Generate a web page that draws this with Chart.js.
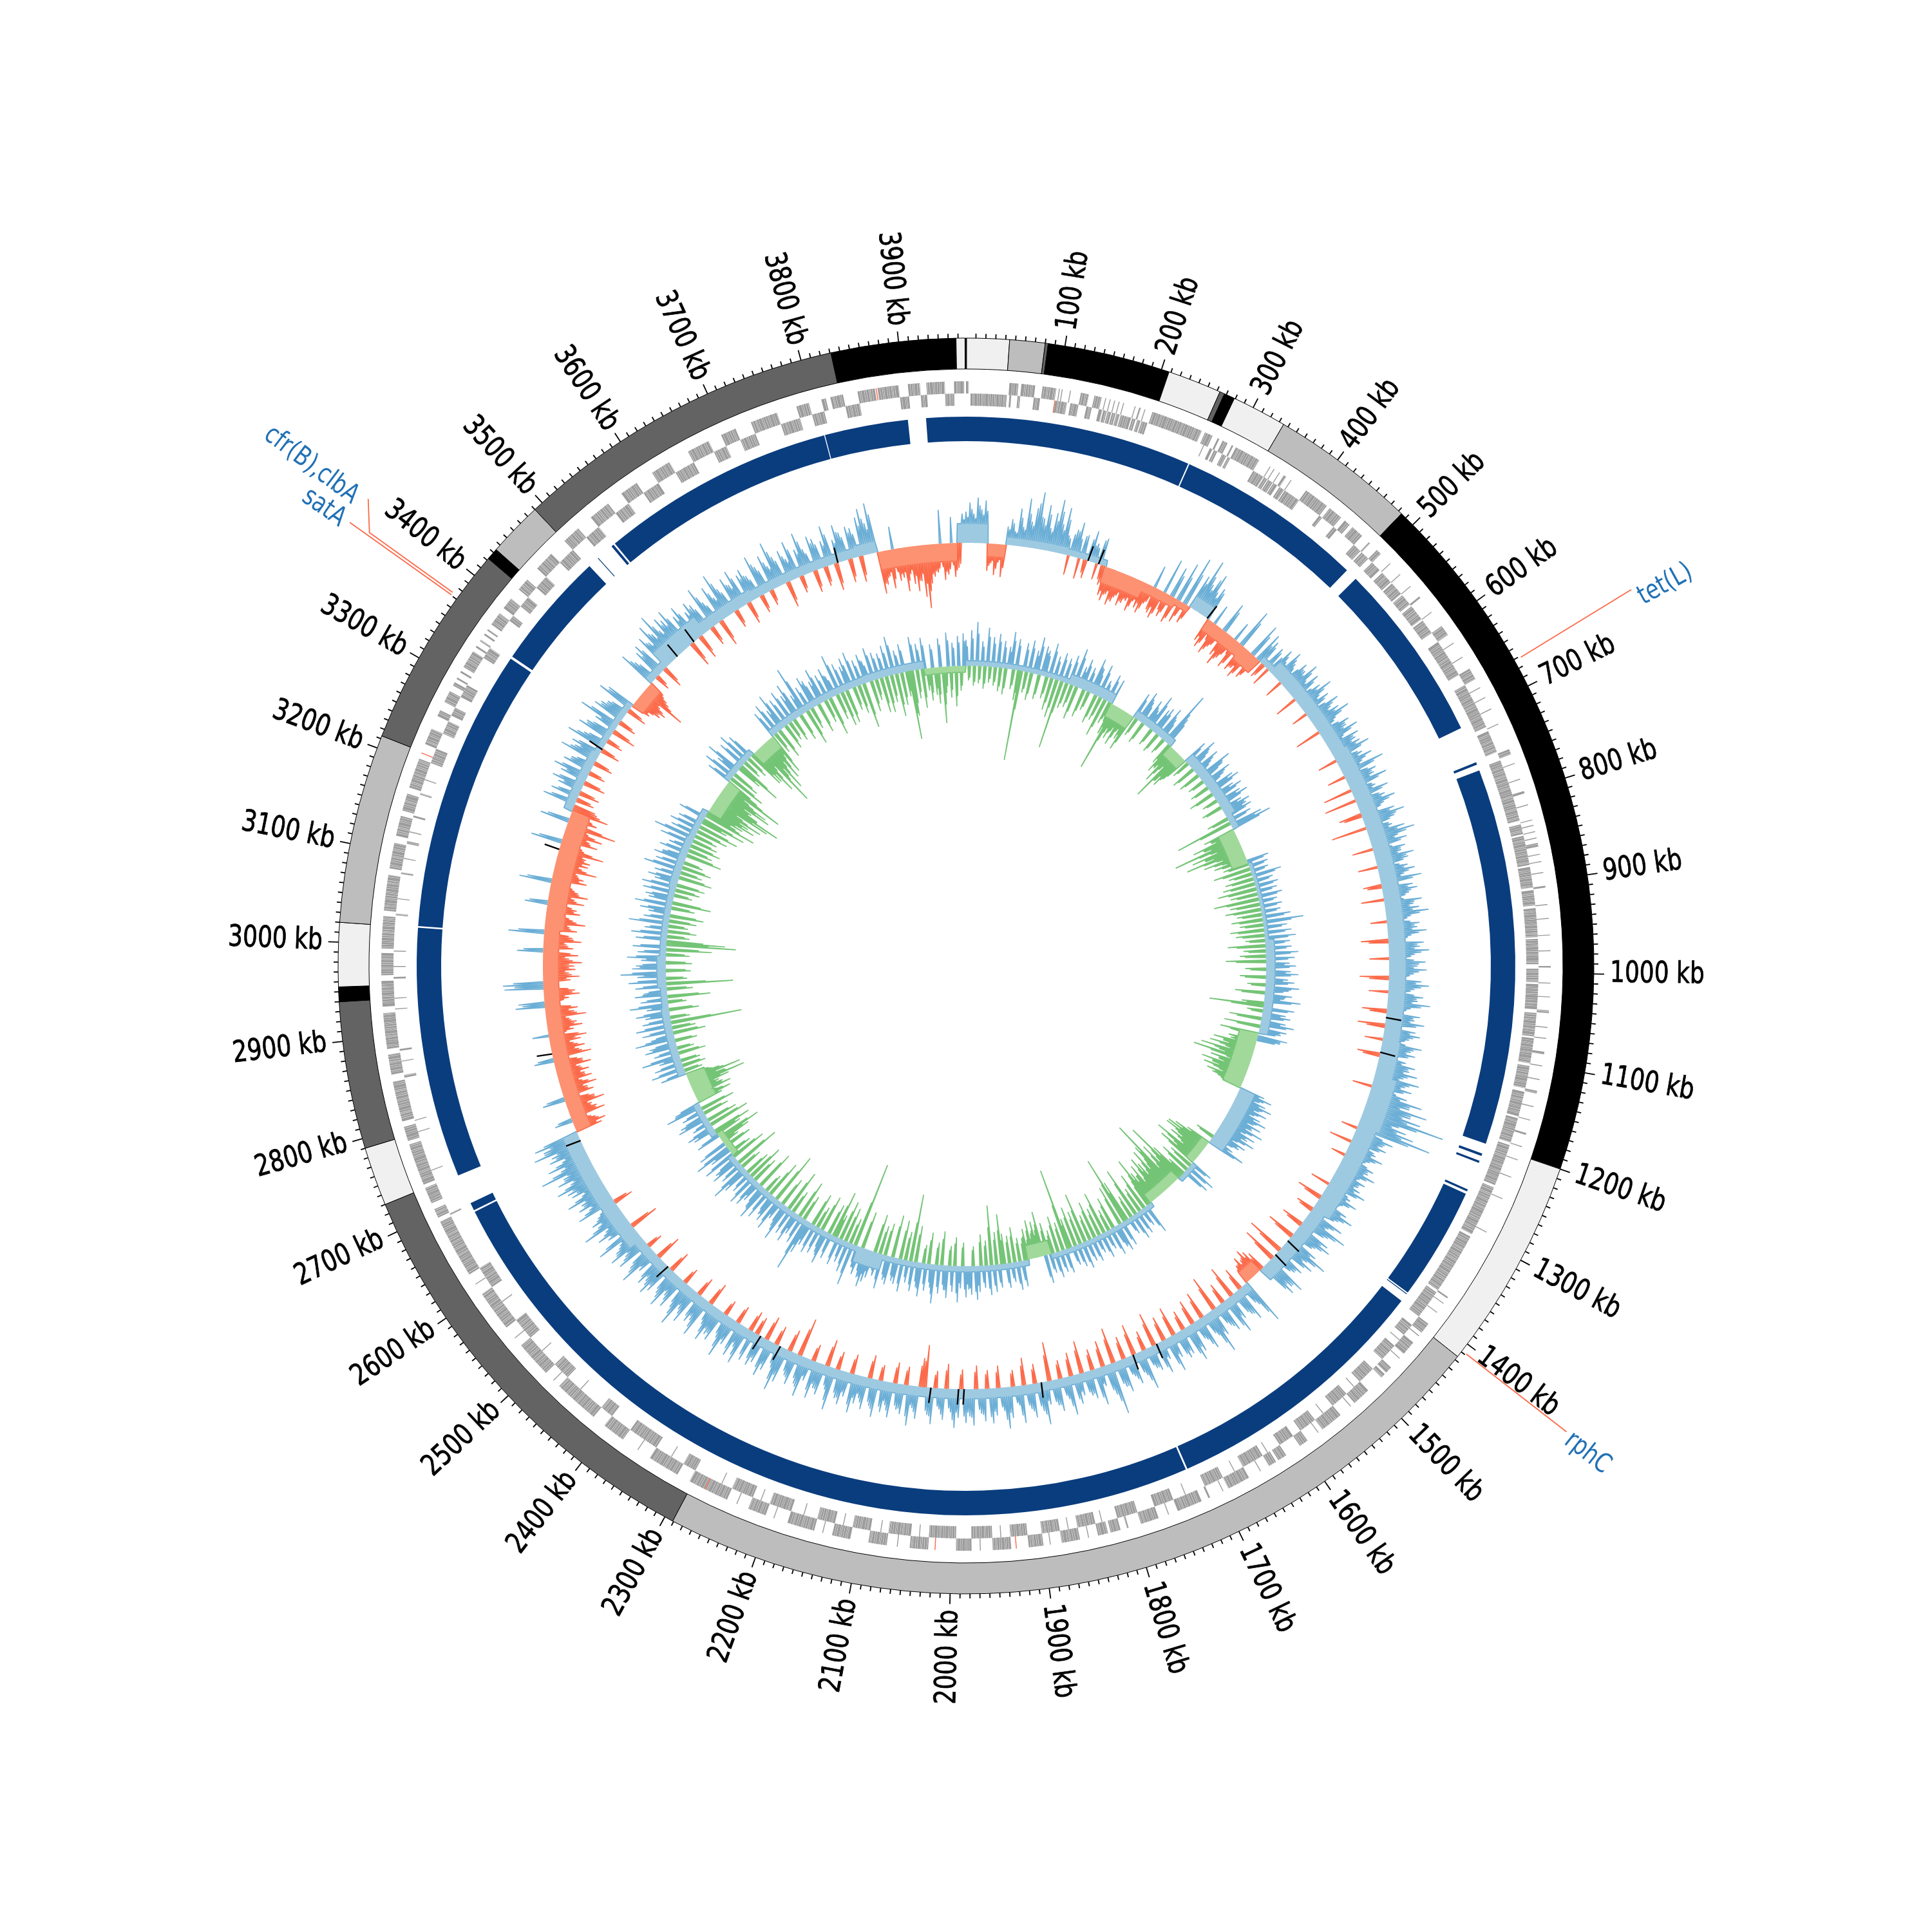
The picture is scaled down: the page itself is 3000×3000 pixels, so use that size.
<!DOCTYPE html>
<html>
<head>
<meta charset="utf-8">
<title>Circular genome map</title>
<script src="https://cdn.jsdelivr.net/npm/chart.js@4/dist/chart.umd.js"></script>
<style>
  html, body { margin: 0; padding: 0; background: #fff; }
  #wrap { position: relative; width: 3000px; height: 3000px; }
  canvas { position: absolute; left: 0; top: 0; }
</style>
</head>
<body>
<div id="wrap">
  <canvas id="rings" width="3000" height="3000"></canvas>
  <canvas id="tracks" width="3000" height="3000"></canvas>
</div>
<script>
const GENOME_KB = 3968;

// contig ring: end of each contig in kb, and its shade
const contigEnds = [0.6, 44, 80, 83, 208, 263, 268, 279, 335, 484, 1200, 1416, 2291, 2730, 2790, 2940, 2955, 3020, 3213, 3422, 3434, 3490, 3831, 3958, 3967, 3968];
const contigColors = ['#000000', '#f0f0f0', '#bdbdbd', '#636363', '#000000', '#f0f0f0', '#636363', '#000000', '#f0f0f0', '#bdbdbd', '#000000', '#f0f0f0', '#bdbdbd', '#636363', '#f0f0f0', '#636363', '#000000', '#f0f0f0', '#bdbdbd', '#636363', '#000000', '#bdbdbd', '#636363', '#000000', '#f0f0f0', '#000000'];

// aligned blocks (start, end, start, end ... in kb)
const blueEdges = [0, 263, 264.5, 484, 498, 709, 752, 755, 762, 1200, 1212, 1215, 1221, 1223.5, 1256.5, 1259, 1262, 1394, 1395.5, 1396.5, 1406, 1722, 1724, 2683, 2685, 2694, 2729, 3020, 3022, 3351, 3354, 3491, 3504, 3505, 3525, 3528, 3530, 3803, 3804, 3901, 3922, 3968];

// genes on the two strands
const geneOuter = [0,3, 47,57, 60,75, 83,98, 101,102, 104,105, 113,114, 125,134, 140,148, 152,153, 157,158, 162,163, 167,168, 172,173, 185,186, 190,192, 196,197,
  205,262, 266,275, 281,283, 287,293, 298,300, 303,332, 345,346, 350,351, 357,358, 363,366, 372,373, 392,420, 424,440, 445,452, 456,470, 480,482, 492,498,
  512,513, 528,529, 545,546, 560,562, 581,582, 600,612, 622,623, 640,641, 655,668, 678,679, 690,691, 704,705, 722,723, 752,758, 768,769, 786,787, 800,803, 815,816, 832,833, 838,839, 845,846, 852,853, 858,862, 870,871, 878,879, 890,891, 905,907, 925,926, 940,941, 958,959, 975,976, 992,994, 1010,1011, 1025,1026, 1040,1043, 1058,1059, 1070,1071, 1085,1088, 1100,1101, 1115,1116, 1128,1131, 1145,1146, 1160,1161, 1175,1177, 1190,1191, 1205,1206, 1225,1226, 1250,1251, 1290,1291,
  1372,1374, 1380,1381, 1392,1393, 1408,1420, 1424,1425, 1434,1450, 1456,1457, 1470,1478, 1480,1485, 1505,1525, 1530,1531, 1545,1570, 1575,1576, 1590,1600, 1618,1628, 1631,1640, 1650,1651, 1665,1690, 1696,1697, 1712,1714, 1722,1750, 1760,1761, 1772,1792, 1806,1808, 1815,1826, 1829,1840, 1850,1851, 1860,1880, 1892,1893, 1900,1916, 1929,1930, 1935,1955, 1968,1969, 1978,1995, 2017,2018, 2025,2045, 2058,2059, 2070,2090, 2110,2130, 2140,2141, 2150,2180, 2195,2196, 2205,2225, 2238,2239, 2250,2276, 2276,2277, 2277,2295, 2310,2345, 2360,2361, 2380,2405, 2420,2470, 2478,2479, 2490,2530, 2540,2541, 2555,2600, 2612,2613, 2625,2690, 2695,2705, 2712,2730, 2734,2780, 2784,2800, 2806,2850, 2858,2880, 2886,2925, 2932,2960, 2966,2990, 2995,3030, 3036,3075, 3082,3110, 3118,3140, 3146,3165, 3172,3205,
  3211,3212, 3222,3240, 3255,3262, 3272,3285, 3292,3296, 3300,3302, 3308,3310, 3315,3335, 3340,3342, 3348,3350, 3356,3358, 3362,3364, 3370,3385, 3392,3405, 3418,3432, 3448,3470, 3490,3510, 3528,3552, 3570,3590, 3610,3632, 3655,3680, 3695,3712, 3730,3760, 3782,3796, 3810,3815, 3820,3834, 3850,3869, 3870,3871, 3872,3895, 3905,3918, 3925,3945, 3955,3966];
const geneInner = [5,45, 48,50, 57,60, 75,82, 98,99, 99,112, 116,125, 134,140, 148,152, 153,157, 158,162, 163,167, 168,172, 173,185, 186,190, 192,196, 197,204,
  270,271, 278,281, 283,287, 293,298, 300,303, 332,345, 346,350, 351,357, 358,363, 366,372, 373,392, 420,424, 440,445, 470,480, 482,492,
  498,510, 514,528, 530,545, 547,560, 563,581, 583,600, 612,655, 668,720, 725,750, 760,830, 834,845, 847,880, 882,905, 908,925, 928,960, 962,990, 995,1010, 1012,1040, 1044,1070, 1072,1100, 1103,1128, 1132,1160, 1162,1190, 1193,1240, 1243,1300, 1303,1372,
  1375,1408, 1420,1434, 1441,1442, 1450,1470, 1485,1505, 1513,1514, 1525,1545, 1558,1559, 1570,1590, 1600,1618, 1633,1634, 1640,1665, 1675,1676, 1690,1712, 1735,1736, 1750,1772, 1792,1815, 1832,1833, 1840,1860, 1870,1871, 1880,1900, 1916,1935, 1945,1946, 1955,1978, 1995,2025, 2035,2036, 2045,2070, 2078,2079, 2090,2110, 2120,2121, 2130,2150, 2165,2166, 2180,2205, 2215,2216, 2225,2250, 2262,2263, 2295,2310, 2325,2326, 2345,2380, 2405,2420, 2450,2451, 2470,2490, 2510,2511, 2530,2555, 2580,2581, 2600,2625, 2692,2694, 2745,2746, 2790,2791, 2803,2804, 2852,2855, 2870,2871, 2882,2884, 2928,2929, 2940,2941, 2962,2964, 2975,2976, 2992,2993, 3032,3034, 3050,3051, 3078,3080, 3095,3096, 3112,3115, 3125,3126, 3142,3144, 3168,3170, 3185,3186,
  3205,3222, 3240,3255, 3262,3272, 3285,3300, 3335,3348, 3385,3392, 3405,3418, 3432,3448, 3470,3490, 3510,3528, 3552,3570, 3590,3610, 3632,3655, 3680,3695, 3712,3730, 3760,3782, 3796,3810, 3834,3850, 3895,3905, 3918,3925, 3945,3955];
const geneRedStarts = [98, 1929, 2017, 2276, 3211, 3870];
// typical lengths of the single genes inside a block, kb
const geneLengths = [2.2, 1.4, 3.1, 1.8, 2.6, 1.1, 2.0, 3.4, 1.5, 2.4];

// GC content deviation, one peak every 0.5 degrees (+ outward, - inward)
const gcPeaks = [
  48,62,45,70,52,66,-42,-30,-48,-28,-50,28,40,22,58,30,75,40,62,88,48,70,35,60,82,45,72,30,-30,42,
  55,-32,38,-28,48,30,-25,42,-30,-45,-52,-40,-55,-48,-36,-50,-44,-38,-52,-34,-42,-48,-30,35,-40,-46,55,-38,48,-42,
  62,-35,78,-30,55,85,48,60,42,52,-38,-46,32,-50,-35,48,-42,-55,-40,30,-48,62,-45,-38,-50,55,-42,48,40,-25,
  38,-30,45,28,52,36,-28,48,40,58,32,50,-35,44,60,34,46,-25,55,38,48,62,35,-40,50,42,58,30,52,44,
  48,60,-30,42,55,36,68,-28,50,44,62,-45,38,56,-50,46,60,40,-35,52,66,48,-55,40,58,72,44,56,-32,50,
  42,60,50,-30,46,56,38,64,-28,48,54,40,-35,58,44,52,66,38,-25,50,46,60,36,-42,54,48,62,40,-30,56,
  44,58,38,-45,50,62,40,-30,54,46,66,36,-38,52,44,60,-42,48,56,40,-28,62,46,54,-35,42,58,50,64,44,
  70,50,62,-30,58,84,66,96,72,90,130,60,74,88,118,-25,62,48,56,-35,44,58,40,-22,52,46,60,38,50,42,
  48,60,-30,42,56,36,-40,50,64,44,-28,58,38,72,46,-35,54,62,40,-45,50,73,44,58,-60,48,40,-55,66,52,
  60,-30,-38,-45,-32,-40,-30,74,38,-35,55,42,-50,40,60,-32,48,36,-55,44,70,38,-42,52,34,-38,46,58,-30,40,
  44,-45,36,56,-38,30,50,-52,40,34,-30,62,38,-48,46,32,-35,52,42,-55,81,48,-40,30,58,-32,44,38,-50,34,
  46,-36,60,34,-28,50,40,-60,36,66,44,-30,52,38,-42,58,30,-25,48,64,36,-34,42,54,-28,50,38,-36,56,42,
  52,-30,44,60,36,-38,48,32,-26,56,42,-65,-44,50,34,62,-28,46,40,-32,54,36,48,-24,58,42,-36,50,34,44,
  60,-30,38,52,44,-28,66,36,-42,48,40,58,-26,34,62,44,-60,50,38,-34,54,70,36,-30,46,58,-38,42,50,-28,
  48,-32,60,36,54,-28,42,66,38,-24,50,44,58,34,-36,62,40,46,-30,56,38,70,44,-26,52,36,60,42,-34,48,
  58,40,50,-40,36,64,44,-24,54,38,60,46,34,68,-45,42,56,38,72,44,50,36,-30,62,40,54,46,66,38,52,
  56,70,44,62,50,84,48,66,40,58,52,78,60,72,-42,-50,-36,28,-55,-44,-38,-60,-46,35,-48,-40,-56,-35,-52,-42,
  -50,-38,-56,-44,30,-60,-42,-52,-36,-48,-58,25,-40,-54,-46,-35,-62,-44,-50,45,40,-38,-55,-48,60,62,-42,-56,-40,-50,
  -48,-60,-40,-54,40,-46,-36,-58,-44,55,-50,-38,-62,-42,-30,-52,-46,35,-56,-40,-60,-44,-34,50,-54,-48,-38,-66,-42,-50,
  -52,-44,-70,-38,48,-56,-42,-60,-36,-78,45,-44,-30,-58,-38,52,-28,44,-32,38,50,-34,42,56,-26,46,36,-30,60,40,
  48,-30,62,38,-26,54,44,-38,36,66,-28,50,42,34,-32,58,46,-26,-44,-50,-36,-74,-44,-30,60,40,-24,48,56,-34,
  60,46,72,52,81,48,66,58,70,-40,50,62,-38,44,56,48,-30,68,40,-42,58,36,72,44,-28,54,40,60,-34,46,
  52,38,-28,64,44,-24,56,36,72,46,-40,50,34,60,-26,42,66,38,-34,54,48,-30,40,62,-42,36,58,44,-36,50,
  46,-40,60,72,48,78,-65,-52,-40,-60,35,-50,-46,-68,-42,-58,-70,-55,-80,-98,-60,-50,-44,52,-56,-48,40,-52,-38,45
];
// the smaller spikes lying between those peaks
const gcMinor = [
  40,52,38,58,44,50,-34,-26,-38,-24,-36,24,34,20,44,26,52,34,70,50,38,56,30,48,64,36,54,26,34,40,
  30,36,-20,34,26,24,38,-22,-26,-38,-42,-34,-46,-40,-30,-42,-36,-32,-44,-30,-34,-40,-26,-36,-30,-38,-28,-30,36,-34,
  40,-24,52,-22,44,60,40,70,34,46,-30,-38,-28,-42,-30,36,-34,-44,-32,-26,-40,44,-38,-32,-42,38,-36,30,32,-20,
  32,28,36,24,42,30,34,40,34,46,28,40,30,36,46,28,38,34,44,32,40,48,30,34,42,36,46,26,42,36,
  40,46,36,34,44,30,52,38,42,36,48,34,32,46,38,40,50,34,-28,44,52,40,36,34,46,58,38,46,30,42,
  36,48,42,34,40,46,32,50,-22,40,44,34,30,46,38,42,52,32,36,42,38,48,30,-30,44,40,50,34,38,46,
  38,46,32,-30,42,50,34,40,44,38,52,30,-26,42,38,48,-28,40,46,34,36,50,40,44,-26,36,48,42,50,38,
  56,44,50,40,48,66,52,72,60,70,88,50,60,70,84,44,50,42,46,40,38,48,34,40,44,40,48,34,42,36,
  40,48,36,36,46,32,-28,42,52,38,-22,46,34,58,40,-26,44,50,36,-32,42,58,38,46,-40,40,34,-36,52,44,
  48,-22,-30,-34,-26,-30,-24,56,32,-24,44,36,-36,34,48,-24,40,30,-38,38,54,32,-30,44,30,-28,38,46,-22,34,
  36,-32,30,44,-28,26,40,-36,34,28,-22,48,32,-34,38,28,-26,42,36,-38,60,40,-28,26,46,-24,36,32,-36,28,
  38,-26,46,28,-22,40,34,-40,30,50,36,-22,42,32,-30,46,26,-20,40,50,30,-24,36,44,-22,40,32,-26,44,36,
  42,-22,36,48,30,-28,40,28,-20,44,36,-40,-32,40,30,48,-22,38,34,-24,44,30,40,-20,46,36,-26,40,28,36,
  48,-22,32,42,36,-20,52,30,-30,40,34,46,-20,28,48,36,-42,40,32,-26,44,54,30,-22,38,46,-28,36,40,-22,
  40,-24,48,30,44,-22,36,52,32,-18,40,36,46,28,-26,50,34,38,-22,44,32,54,36,-20,42,30,48,36,-24,40,
  46,34,40,-28,30,50,36,-18,44,32,48,38,28,54,-32,36,44,32,56,36,40,30,-22,50,34,44,38,52,32,42,
  46,56,38,50,42,64,40,52,34,46,42,60,48,56,-34,-40,-30,22,-42,-36,-32,-46,-38,28,-40,-34,-44,-30,-42,-36,
  -40,-32,-44,-36,24,-46,-36,-42,-30,-40,-46,-28,-34,-42,-38,-30,-48,-36,-40,34,-30,-32,-44,-38,44,46,-36,-44,-34,-40,
  -40,-46,-34,-42,30,-38,-32,-46,-38,40,-40,-34,-48,-36,-28,-42,-38,28,-44,-34,-46,-38,-30,38,-42,-40,-34,-50,-36,-40,
  -42,-38,-52,-34,36,-44,-36,-48,-32,-56,34,-36,-28,-44,-34,40,-22,34,-24,30,40,-26,34,44,-20,36,28,-24,46,32,
  38,-22,48,30,-20,42,34,-28,28,50,-22,40,34,28,-24,44,-30,-34,-40,-44,-32,-52,-38,-26,46,32,-18,38,44,-26,
  48,38,56,42,60,40,52,46,54,-30,40,48,-28,36,44,38,-24,52,32,-32,46,30,56,36,-22,42,32,46,-26,38,
  40,30,-22,50,36,-18,44,30,56,38,-30,40,28,46,-20,34,52,30,-26,42,38,-24,32,48,-32,30,46,36,-28,40,
  36,-30,46,56,38,60,-50,-42,-34,-46,-36,-40,-38,-52,-36,-46,-54,-44,-60,-72,-46,-42,-38,-36,-44,-40,-34,-42,-32,36
];
const gcBandEnds = [3, 5.5, 14, 19.3, 25, 30, 32, 35, 41, 44, 46, 60, 75, 100, 105, 112, 125, 136, 138.5, 170, 200, 230, 247, 275, 291.5, 300, 308, 312, 315, 322, 330, 345, 347.9, 358.8, 360];
const gcBandValues = [30, -20, 12, 10, -26, -15, -10, 20, -20, -25, 10, 22, 26, 26, 28, 35, 30, 22, -20, 14, 15, 15, 24, -24, -30, 14, 10, -20, 12, 30, 18, 15, 18, -28, 30];

// GC skew, same sampling (+ outward, - inward)
const skewPeaks = [
  40,-22,55,-30,68,-26,38,-34,60,-24,46,-28,52,-36,42,-40,34,58,-30,48,-46,-140,44,-32,50,-42,36,58,-38,46,
  40,-34,54,-50,36,-60,44,-107,38,-40,46,-36,60,-52,34,48,-44,38,-30,56,42,-46,52,-38,30,-60,44,-36,40,-50,
  -108,-45,-52,-38,-58,-34,-44,-60,42,-30,50,36,-35,44,30,58,-28,40,46,-32,52,36,-26,89,48,-36,-50,-42,-62,-38,
  -88,-55,-60,-44,40,-28,52,36,-38,46,30,-34,58,42,-26,48,34,-30,44,52,-40,36,48,-24,40,50,-32,34,46,38,
  44,-34,38,-90,52,65,-50,-40,-72,-55,-106,-48,-80,-60,-92,-44,-66,-38,-52,34,-40,30,-58,28,-36,46,-44,30,-50,36,
  -60,32,-42,38,-70,28,-46,34,-55,30,-38,44,-48,63,-36,36,-52,42,-44,48,-30,38,-58,40,-34,50,-40,44,-62,36,
  46,-32,38,50,-40,34,44,-28,52,36,-46,42,30,56,-34,-84,48,-24,36,44,-50,38,52,-56,42,34,-60,46,36,-44,
  -40,-66,-50,-70,-44,-82,-52,-92,-38,-62,-48,-74,-56,-68,-42,-60,-50,-34,40,54,36,48,60,42,56,38,50,62,44,58,
  46,66,40,58,48,62,36,52,44,-30,38,60,-40,-60,-71,-72,-48,-58,-36,-78,-44,-66,36,-40,48,-50,44,-30,-60,-102,
  -48,-72,-40,-119,-80,-50,-76,-44,-58,-70,-36,-62,-46,-54,-80,-44,48,-60,30,-40,38,-78,42,-36,28,-66,-108,40,-63,44,
  36,-50,44,-34,30,-66,40,-44,28,-58,38,-40,34,-78,42,-52,36,-62,30,-46,-127,38,-44,34,-56,40,-36,30,-50,44,
  -70,-42,-56,-38,-60,-30,-48,-34,40,-36,44,-54,30,-42,38,-46,-77,36,-50,42,-92,46,-38,34,-48,40,52,-30,44,36,
  48,-36,34,56,-44,40,-30,50,38,-52,44,-34,60,36,-48,42,-28,52,38,-56,46,-104,34,-44,50,-60,40,36,-66,44,
  38,-50,54,-44,36,-60,42,50,59,46,-58,44,34,-133,66,-40,48,-54,36,-62,44,-36,-73,40,-48,52,36,-56,42,-34,
  46,-52,38,54,85,-40,44,-60,34,50,-36,42,-66,58,38,-46,30,52,-81,44,36,-59,48,-30,56,40,-62,34,46,-42,
  50,-58,36,-40,44,62,-34,38,-72,48,40,-56,52,-36,34,58,-44,46,-28,-50,-70,38,-42,-60,36,44,-64,30,-48,50,
  44,-40,36,-54,58,42,-40,-56,-34,-60,-48,-44,-62,-89,-58,-85,-52,-36,40,-28,52,-36,44,-30,34,60,-42,38,-26,50,
  42,-34,62,36,-50,48,-36,56,-110,44,-30,38,52,-46,34,60,-28,42,-66,50,36,-40,48,-103,58,-32,44,70,-38,52,
  46,-40,38,60,-36,44,-70,52,-107,-90,48,-34,56,-44,36,-30,62,-42,40,-52,34,48,-36,58,-60,38,44,-28,50,-38,
  54,-44,36,48,-52,40,-34,60,-46,44,-30,50,38,-56,46,-38,34,-48,52,-40,66,-36,42,-50,48,-64,38,-42,-70,44,
  -84,-50,-60,-78,-66,-86,-52,-94,-111,-72,-58,-88,-80,-46,-100,-56,40,-60,52,-44,36,58,-40,-72,46,-30,54,-36,44,-60,
  -60,-80,-44,-107,-62,-86,-50,-72,-40,-66,44,-34,52,-48,36,60,-40,46,-30,54,-36,42,58,-42,34,78,-56,40,-34,52,
  44,-46,38,56,-36,42,-60,48,34,-40,64,-54,46,-52,38,50,-36,56,-44,40,-70,46,34,-48,52,-32,42,-54,38,-56,
  48,-42,60,-66,36,-50,44,-38,-106,-70,52,-44,40,-60,48,-34,-50,36,-42,-56,44,-87,-40,52,-48,36,-62,46,-38,50
];
const skewMinor = [
  30,-18,42,-24,50,-20,30,-26,46,-18,36,-22,40,-28,32,-30,26,44,-24,38,-34,-60,34,-26,38,-32,28,44,-30,36,
  32,-26,42,-38,28,-44,34,-50,30,-32,36,-28,46,-40,26,38,-34,30,-24,44,32,-36,40,-30,24,-46,34,-28,-30,-38,
  -60,-36,-42,-30,-46,-28,-36,-48,32,-24,40,28,-28,34,24,44,-22,32,36,-26,40,28,-20,56,38,-28,-40,-34,-48,-30,
  -56,-44,-48,-36,30,-22,40,28,-30,36,24,-26,44,32,-20,38,26,-24,34,40,-30,28,38,-18,32,38,-26,26,36,30,
  34,-26,30,-52,40,46,-40,-32,-56,-44,-66,-38,-60,-46,-64,-34,-50,-30,-40,26,-32,24,-44,22,-28,36,-34,24,-38,28,
  -44,24,-32,30,-50,22,-36,26,-42,24,-30,34,-36,44,-28,28,-40,32,-34,36,-24,30,-44,32,-26,38,-32,34,-46,28,
  36,-24,30,38,-32,26,34,-22,40,28,-36,32,24,42,-26,-50,38,-18,28,34,-38,30,40,-36,32,26,-44,36,28,-34,
  -32,-50,-40,-54,-36,-60,-42,-64,-30,-48,-38,-56,-44,-52,-34,-46,-40,-28,32,42,28,38,46,34,44,30,40,48,34,44,
  36,50,32,44,38,48,28,40,34,-24,30,46,-32,-46,-48,-54,-38,-44,-30,-58,-36,-50,28,-32,36,-38,34,-24,-44,-60,
  -38,-54,-32,-70,-58,-40,-56,-36,-44,-52,-30,-46,-36,-42,-54,-34,36,-44,24,-32,30,-56,32,-28,22,-48,-66,30,-44,34,
  28,-38,34,-26,24,-48,30,-34,22,-44,30,-32,26,-52,32,-40,28,-46,24,-36,-70,30,-34,26,-42,30,-28,24,-38,34,
  -50,-34,-42,-30,-44,-24,-36,-26,30,-28,34,-40,24,-32,30,-36,-52,28,-38,32,-58,36,-30,26,-36,30,40,-24,34,28,
  36,-28,26,42,-34,30,-24,38,30,-40,34,-26,46,28,-36,32,-22,40,30,-42,36,-60,26,-34,38,-44,30,28,-48,34,
  30,-38,40,-34,28,-44,32,38,44,36,-42,34,26,-70,48,-30,36,-40,28,-46,34,-28,-50,30,-36,40,28,-42,32,-26,
  36,-40,30,42,60,-30,34,-44,26,38,-28,32,-48,44,30,-36,24,40,-54,34,28,-42,36,-24,42,30,-46,26,36,-32,
  38,-42,28,-30,34,46,-26,30,-52,36,30,-42,40,-28,26,44,-34,36,-22,-40,-52,30,-34,-44,28,34,-48,24,-36,38,
  34,-30,28,-40,44,32,-34,-44,-28,-46,-38,-36,-48,-60,-44,-58,-40,-28,30,-22,40,-28,34,-24,26,46,-32,30,-20,38,
  32,-26,46,28,-38,36,-28,42,-62,34,-24,30,40,-36,26,46,-22,32,-48,38,28,-30,36,-60,44,-26,34,52,-30,40,
  36,-30,30,46,-28,34,-50,40,-64,-56,36,-26,42,-34,28,-24,46,-32,30,-40,26,36,-28,44,-44,30,34,-22,38,-30,
  40,-34,28,36,-40,30,-26,46,-36,34,-24,38,30,-42,36,-30,26,-36,40,-30,50,-28,32,-38,36,-48,30,-32,-50,34,
  -58,-40,-46,-56,-50,-62,-40,-66,-72,-54,-44,-62,-56,-36,-68,-42,30,-44,40,-34,28,44,-30,-52,36,-24,40,-28,34,-44,
  -46,-58,-36,-68,-48,-60,-40,-54,-32,-48,34,-26,40,-36,28,46,-30,36,-24,42,-28,32,44,-32,26,56,-42,30,-26,40,
  34,-34,30,42,-28,32,-44,36,26,-30,48,-40,36,-40,30,38,-28,42,-34,30,-50,36,26,-36,40,-24,32,-40,30,-42,
  36,-32,46,-48,28,-38,34,-30,-66,-50,40,-34,30,-44,36,-26,-38,28,-32,-42,34,-58,-30,40,-36,28,-46,36,-30,38
];
const skewBandEnds = [20, 29, 34, 43, 47, 60, 63, 70, 85, 103, 114, 126, 131, 135, 142, 163.5, 168, 196, 201, 231, 236, 243, 249, 262, 266, 272, 285, 295, 301, 308, 315, 320, 340, 352, 360];
const skewBandValues = [8, 16, -22, 12, -18, 16, 10, -26, 6, 14, -30, 25, -14, 8, -16, 8, -22, 9, 25, 9, -10, 10, -30, 12, 10, 14, 10, 12, 10, -22, 10, -22, 11, 12, -10];

// short black marks across the GC track (degrees)
const gcMarks = [16.8, 18.3, 34.7, 97, 101.7, 130.5, 133, 153.3, 156.7, 169.8, 180.2, 181, 184.7, 206, 209, 224.8, 245.6, 258, 286, 300.8, 317, 320, 342.4];

// resistance genes: name, line points (angle deg, radius), label centre and rotation
const amrNames = ['tet(L)', 'rphC', 'satA', 'cfr(B),clbA'];
const amrLineAngles = [[60.9, 60.5], [127.8, 127.8], [305.8, 305.75], [306.05, 306, 308]];
const amrLineRadii = [[986, 1187], [983, 1180], [985, 1179], [986, 1145, 1178]];
const amrLabelAngles = [61.4, 128.1, 305.5, 307.4];
const amrLabelRadii = [1237, 1226, 1225, 1280];
const amrLabelRotations = [-29, 38, 35, 37];

const GC_BASE = 657;
const SKEW_BASE = 466;
const TICK_STEP_KB = 10;
const LABEL_STEP_KB = 100;
const SAMPLES_PER_PEAK = 4;

const BLOCK_GRAY = '#9c9c9c';
const RED_LINE = '#fb6a4a';
const LABEL_BLUE = '#2171b5';
const TICK_FONT = "46px 'DejaVu Sans Condensed', 'DejaVu Sans'";
const AMR_FONT = "42px 'DejaVu Sans Condensed', 'DejaVu Sans'";
const TEXT_SQUEEZE = 0.87;

const NONE = 'rgba(0,0,0,0)';
const labels = new Array(gcPeaks.length * SAMPLES_PER_PEAK).fill('');

// turn start/end edges into slice lengths with a colour per slice
function blocks(edges, color) {
    const data = [], colors = [];
    let pos = 0;
    for (let i = 0; i < edges.length; i += 2) {
        if (edges[i] > pos) { data.push(edges[i] - pos); colors.push(NONE); }
        data.push(edges[i + 1] - edges[i]);
        colors.push(color);
        pos = edges[i + 1];
    }
    if (pos < GENOME_KB) { data.push(GENOME_KB - pos); colors.push(NONE); }
    return { data, backgroundColor: colors, borderWidth: 0 };
}

// same, but each block is cut into single genes with hair gaps
function geneBlocks(edges, color) {
    const data = [], colors = [];
    let pos = 0, n = 0;
    for (let i = 0; i < edges.length; i += 2) {
        if (edges[i] > pos) { data.push(edges[i] - pos); colors.push(NONE); }
        const tint = geneRedStarts.includes(edges[i]) ? RED_LINE : color;
        let at = edges[i];
        while (at < edges[i + 1]) {
            const len = Math.min(geneLengths[n++ % geneLengths.length], edges[i + 1] - at);
            data.push(len);
            colors.push(tint);
            at += len;
            if (at < edges[i + 1]) { data.push(0.3); colors.push(NONE); at += 0.3; }
        }
        pos = at;
    }
    if (pos < GENOME_KB) { data.push(GENOME_KB - pos); colors.push(NONE); }
    return { data, backgroundColor: colors, borderWidth: 0 };
}

function spacer(weight) {
    return { data: [1], backgroundColor: [NONE], borderWidth: 0, weight };
}

function bandAt(deg, ends, values) {
    for (let i = 0; i < ends.length; i++) {
        if (deg < ends[i]) return values[i];
    }
    return values[values.length - 1];
}

// spikes rising from the band level, split into outward and inward parts;
// stretches resting on the baseline are left out so nothing draws along it
function splitTrack(peaks, minor, ends, values, base) {
    const out = [], inn = [];
    labels.forEach((_, i) => {
        const deg = i * 360 / labels.length;
        const band = bandAt(deg, ends, values);
        const k = Math.floor(i / SAMPLES_PER_PEAK);
        let v = band;
        if (i % SAMPLES_PER_PEAK === 0) v = peaks[k];
        if (i % SAMPLES_PER_PEAK === 2) v = minor[k];
        out.push(base + (v > 0 ? v : Math.max(band, 0)));
        inn.push(base + (v < 0 ? v : Math.min(band, 0)));
    });
    const gaps = series => series.map((r, i) => {
        const prev = series[(i + series.length - 1) % series.length];
        const next = series[(i + 1) % series.length];
        return r === base && prev === base && next === base ? null : r;
    });
    return [gaps(out), gaps(inn)];
}

function trackDataset(data, base, line, fillColor) {
    return {
        data,
        borderColor: line,
        backgroundColor: fillColor,
        borderWidth: 1.7,
        borderJoinStyle: 'round',
        pointRadius: 0,
        tension: 0,
        spanGaps: false,
        fill: { value: base },
        segment: {
            // no stroke along the flat top of the band
            borderColor: ctx => (ctx.p0.parsed.r === ctx.p1.parsed.r) ? NONE : undefined
        }
    };
}

function markDataset() {
    const data = new Array(labels.length).fill(null);
    gcMarks.forEach(deg => {
        const i = Math.round(deg * labels.length / 360);
        data[i] = GC_BASE;
        data[i + 1] = GC_BASE + 24;
    });
    return { data, borderColor: '#000', borderWidth: 2.4, pointRadius: 0, fill: false, spanGaps: false };
}

const rad = deg => deg * Math.PI / 180;

// tick marks, tick labels and gene callouts, placed through the radial scale
const outerText = {
    id: 'outerText',
    afterDraw(chart) {
        const { ctx, scales: { r } } = chart;
        const at = (deg, dist) => r.getPointPosition(0, dist, rad(deg));

        ctx.save();
        ctx.strokeStyle = '#000';
        ctx.lineWidth = 1.8;
        for (let kb = TICK_STEP_KB; kb < GENOME_KB; kb += TICK_STEP_KB) {
            const deg = kb * 360 / GENOME_KB;
            const a = at(deg, 975);
            const b = at(deg, kb % LABEL_STEP_KB === 0 ? 991 : 982);
            ctx.beginPath();
            ctx.moveTo(a.x, a.y);
            ctx.lineTo(b.x, b.y);
            ctx.stroke();
        }

        ctx.fillStyle = '#000';
        ctx.font = TICK_FONT;
        ctx.textBaseline = 'middle';
        ctx.lineWidth = 0.8;
        for (let kb = LABEL_STEP_KB; kb < GENOME_KB; kb += LABEL_STEP_KB) {
            const deg = kb * 360 / GENOME_KB;
            const p = at(deg, 1000);
            const right = deg < 180;
            ctx.save();
            ctx.translate(p.x, p.y);
            ctx.rotate(rad(right ? deg - 90 : deg + 90));
            ctx.scale(TEXT_SQUEEZE, 1);
            ctx.textAlign = right ? 'left' : 'right';
            ctx.fillText(kb + ' kb', 0, 0);
            ctx.strokeText(kb + ' kb', 0, 0);
            ctx.restore();
        }

        ctx.strokeStyle = RED_LINE;
        ctx.lineWidth = 1.8;
        ctx.font = AMR_FONT;
        ctx.fillStyle = LABEL_BLUE;
        ctx.textAlign = 'center';
        amrNames.forEach((name, i) => {
            ctx.beginPath();
            amrLineAngles[i].forEach((deg, j) => {
                const p = at(deg, amrLineRadii[i][j]);
                if (j === 0) ctx.moveTo(p.x, p.y); else ctx.lineTo(p.x, p.y);
            });
            ctx.stroke();
            const p = at(amrLabelAngles[i], amrLabelRadii[i]);
            ctx.save();
            ctx.translate(p.x, p.y);
            ctx.rotate(rad(amrLabelRotations[i]));
            ctx.scale(TEXT_SQUEEZE, 1);
            ctx.fillText(name, 0, 0);
            ctx.restore();
        });
        ctx.restore();
    }
};

// rings: contigs, two gene strands, aligned blocks
const contigLengths = contigEnds.map((end, i) => end - (i ? contigEnds[i - 1] : 0));

new Chart(document.getElementById('rings'), {
    type: 'doughnut',
    data: {
        datasets: [
            { data: contigLengths, backgroundColor: contigColors, borderColor: '#000', borderWidth: 1, weight: 48 },
            spacer(19),
            Object.assign(geneBlocks(geneOuter, BLOCK_GRAY), { weight: 19 }),
            Object.assign(geneBlocks(geneInner, BLOCK_GRAY), { weight: 19 }),
            spacer(17),
            Object.assign(blocks(blueEdges, '#0a3d7e'), { weight: 38 })
        ]
    },
    options: {
        responsive: false,
        animation: false,
        devicePixelRatio: 1,
        cutout: 815,
        layout: { padding: 524.5 },
        plugins: { legend: { display: false }, tooltip: { enabled: false } }
    }
});

const [gcOut, gcIn] = splitTrack(gcPeaks, gcMinor, gcBandEnds, gcBandValues, GC_BASE);
const [skewOut, skewIn] = splitTrack(skewPeaks, skewMinor, skewBandEnds, skewBandValues, SKEW_BASE);

new Chart(document.getElementById('tracks'), {
    type: 'radar',
    data: {
        labels,
        datasets: [
            markDataset(),
            trackDataset(gcIn, GC_BASE, '#fb6a4a', '#fc9272'),
            trackDataset(gcOut, GC_BASE, '#6baed6', '#9ecae1'),
            trackDataset(skewIn, SKEW_BASE, '#74c476', '#a1d99b'),
            trackDataset(skewOut, SKEW_BASE, '#6baed6', '#9ecae1')
        ]
    },
    options: {
        responsive: false,
        animation: false,
        devicePixelRatio: 1,
        layout: { padding: 0 },
        plugins: { legend: { display: false }, tooltip: { enabled: false } },
        scales: {
            r: {
                min: 0,
                max: 1500,
                ticks: { display: false },
                grid: { display: false },
                angleLines: { display: false },
                pointLabels: { display: false }
            }
        }
    },
    plugins: [outerText]
});
</script>
</body>
</html>
